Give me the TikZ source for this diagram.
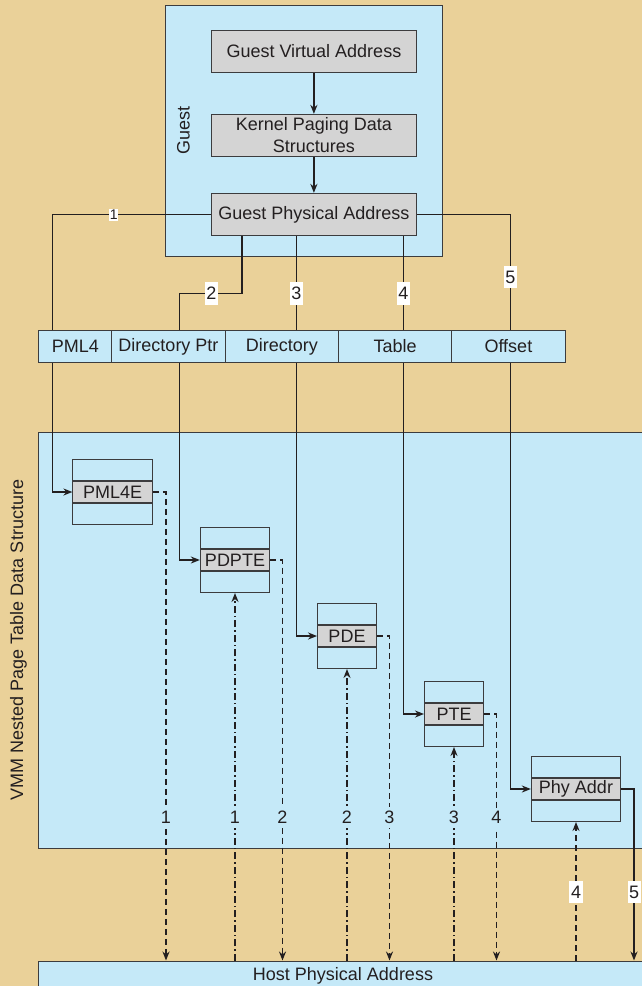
\documentclass[tikz,border=0pt]{standalone}
\usepackage{fontspec}
\setmainfont{Liberation Sans}
\usetikzlibrary{arrows.meta,calc}
\definecolor{parch}{RGB}{234,209,153}
\definecolor{lblue}{RGB}{197,233,248}
\definecolor{graybox}{RGB}{212,212,212}
\definecolor{linec}{RGB}{35,31,32}
\definecolor{bordc}{RGB}{60,60,62}
\pgfdeclarelayer{back}
\pgfdeclarelayer{mid}
\pgfsetlayers{back,mid,main}
\tikzset{
  txt/.style={font=\fontsize{18}{22}\selectfont, text=linec},
  gbox/.style={txt, draw=bordc, line width=1pt, fill=graybox, inner sep=0pt, minimum width=205.2pt, minimum height=42.2pt, align=center},
  field/.style={txt, draw=bordc, line width=1pt, fill=lblue, inner sep=0pt, minimum height=31.3pt},
  rowbox/.style={draw=bordc, line width=1pt, fill=lblue, inner sep=0pt, minimum height=21pt},
  ent/.style={txt, draw=bordc, line width=1pt, fill=graybox, inner sep=0pt, minimum height=21pt},
  region/.style={draw=bordc, line width=1pt, fill=lblue, inner sep=0pt},
  conn/.style={draw=linec, line width=1.7pt},
  arr/.style={-{Stealth[length=9pt,width=7pt]}},
  dsh/.style={dash pattern=on 6pt off 4pt},
  dshdot/.style={dash pattern=on 7pt off 3pt on 1.5pt off 3pt},
  wlab/.style={txt, fill=white, inner xsep=1.5pt, inner ysep=5pt},
  blab/.style={txt, fill=lblue, inner xsep=1pt, inner ysep=4pt},
}
\begin{document}
\begin{tikzpicture}[x=1pt,y=-1pt]
\useasboundingbox (0,0) rectangle (642,986);

% regions
\begin{pgfonlayer}{back}
\fill[parch] (0,0) rectangle (642,986);
\node[region, minimum width=276.9pt, minimum height=251.7pt] (guest) at (303.85,130.85) {};
\node[region, minimum width=621.1pt, minimum height=416pt] (vmm) at (349.45,640.3) {};
\node[region, minimum width=621.1pt, minimum height=39pt] (host) at (349.45,980.5) {};
\end{pgfonlayer}

\node[txt, rotate=90] (guestlab) at (183.5,130.5) {Guest};
\node[txt, rotate=90] (vmmlab) at (18.4,640) {VMM Nested Page Table Data Structure};
\node[txt] (hostlab) at (343,976) {Host Physical Address};

% guest boxes
\node[gbox] (gva) at (313.9,51.3) {Guest Virtual Address};
\node[gbox] (kpds) at (313.9,135.5) {Kernel Paging Data\\Structures};
\node[gbox] (gpa) at (313.9,214.5) {Guest Physical Address};

% address fields
\node[field, minimum width=72.9pt] (f1) at (75.35,346.35) {PML4};
\node[field, minimum width=113.4pt] (f2) at (168.5,346.35) {Directory Ptr};
\node[field, minimum width=113.5pt] (f3) at (281.95,346.35) {Directory};
\node[field, minimum width=113pt] (f4) at (395.2,346.35) {Table};
\node[field, minimum width=113.4pt] (f5) at (508.4,346.35) {Offset};

% table entries
\node[ent, minimum width=79.4pt] (pml4e) at (112.6,492) {PML4E};
\node[rowbox, minimum width=79.4pt, anchor=south] (pml4eT) at (pml4e.north) {};
\node[rowbox, minimum width=79.4pt, anchor=north] (pml4eB) at (pml4e.south) {};

\node[ent, minimum width=69.3pt] (pdpte) at (235,560) {PDPTE};
\node[rowbox, minimum width=69.3pt, anchor=south] (pdpteT) at (pdpte.north) {};
\node[rowbox, minimum width=69.3pt, anchor=north] (pdpteB) at (pdpte.south) {};

\node[ent, minimum width=58.9pt] (pde) at (347,636) {PDE};
\node[rowbox, minimum width=58.9pt, anchor=south] (pdeT) at (pde.north) {};
\node[rowbox, minimum width=58.9pt, anchor=north] (pdeB) at (pde.south) {};

\node[ent, minimum width=59pt] (pte) at (454,714) {PTE};
\node[rowbox, minimum width=59pt, anchor=south] (pteT) at (pte.north) {};
\node[rowbox, minimum width=59pt, anchor=north] (pteB) at (pte.south) {};

\node[ent, minimum width=89.3pt] (phy) at (576,789) {Phy Addr};
\node[rowbox, minimum width=89.3pt, anchor=south] (phyT) at (phy.north) {};
\node[rowbox, minimum width=89.3pt, anchor=north] (phyB) at (phy.south) {};

% helper coordinates
\coordinate (xa) at (52.5,0);
\coordinate (xb) at (179.5,0);
\coordinate (xc) at (296.5,0);
\coordinate (xd) at (403.5,0);
\coordinate (xe) at (510.5,0);
\coordinate (xf) at (242,0);
\coordinate (yj) at (0,293.5);
\coordinate (da) at (166,0);
\coordinate (db) at (282.5,0);
\coordinate (dc) at (389.5,0);
\coordinate (dd) at (496.5,0);
\coordinate (de) at (634,0);

\begin{pgfonlayer}{mid}
% guest chain
\draw[conn, arr] (gva.south) -- (kpds.north);
\draw[conn, arr] (kpds.south) -- (gpa.north);
% guest physical address to fields
\draw[conn] (gpa.west) -| (xa |- f1.north);
\draw[conn] (gpa.south -| xf) -- (xf |- yj) -| (xb |- f2.north);
\draw[conn] (gpa.south -| xc) -- (xc |- f3.north);
\draw[conn] (gpa.south -| xd) -- (xd |- f4.north);
\draw[conn] (gpa.east) -| (xe |- f5.north);
% fields to entries
\draw[conn, arr] (xa |- f1.south) |- (pml4e.west);
\draw[conn, arr] (xb |- f2.south) |- (pdpte.west);
\draw[conn, arr] (xc |- f3.south) |- (pde.west);
\draw[conn, arr] (xd |- f4.south) |- (pte.west);
\draw[conn, arr] (xe |- f5.south) |- (phy.west);
% entries down to host
\draw[conn, dsh, arr] (pml4e.east) -| (da |- host.north);
\draw[conn, dsh, arr] (pdpte.east) -| (db |- host.north);
\draw[conn, dsh, arr] (pde.east) -| (dc |- host.north);
\draw[conn, dsh, arr] (pte.east) -| (dd |- host.north);
\draw[conn, arr] (phy.east) -| (de |- host.north);
% host up to entries
\draw[conn, dshdot, arr] (pdpteB.south |- host.north) -- (pdpteB.south);
\draw[conn, dshdot, arr] (pdeB.south |- host.north) -- (pdeB.south);
\draw[conn, dshdot, arr] (pteB.south |- host.north) -- (pteB.south);
\draw[conn, dsh, arr] (phyB.south |- host.north) -- (phyB.south);
\end{pgfonlayer}

% labels
\node[txt, fill=white, inner sep=0.8pt, font=\fontsize{14}{16}\selectfont] (l1) at (113.8,215) {1};
\node[wlab] (l2) at (211.3,293.5) {2};
\node[wlab] (l3) at (296.5,293.5) {3};
\node[wlab] (l4) at (403.5,293.5) {4};
\node[wlab] (l5) at (510.5,277) {5};

\node[blab] (m1) at (166,817.7) {1};
\node[blab] (m2) at (235,817.7) {1};
\node[blab] (m3) at (282.5,817.7) {2};
\node[blab] (m4) at (347,817.7) {2};
\node[blab] (m5) at (389.5,817.7) {3};
\node[blab] (m6) at (454,817.7) {3};
\node[blab] (m7) at (496.5,817.7) {4};

\node[wlab] (b4) at (576,892) {4};
\node[wlab] (b5) at (634,892) {5};
\end{tikzpicture}
\end{document}
